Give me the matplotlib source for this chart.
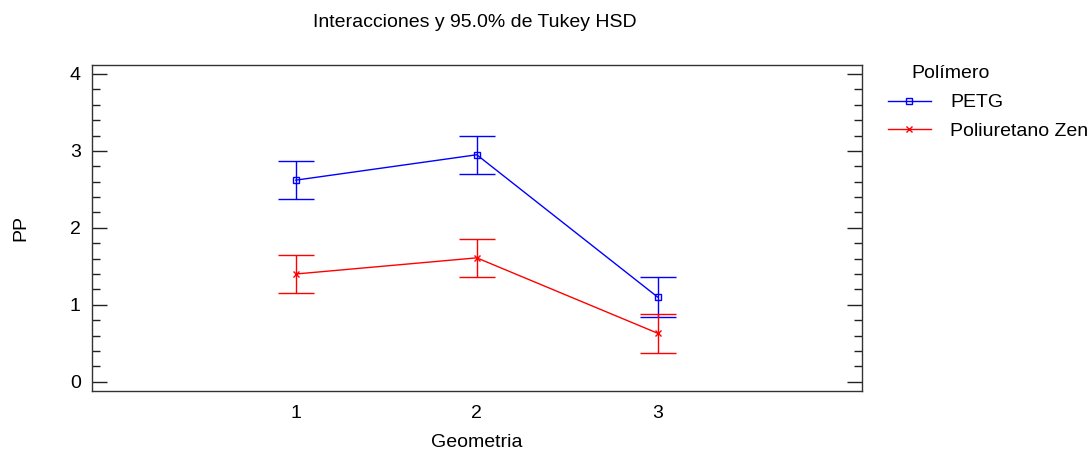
import numpy as np
import matplotlib
matplotlib.use("Agg")
import matplotlib.pyplot as plt
from matplotlib.ticker import MultipleLocator
from matplotlib.lines import Line2D

plt.rcParams['font.family'] = ['Liberation Sans', 'DejaVu Sans']

# ====== datos ======
geometria = [1, 2, 3]
petg_mean = [2.62, 2.95, 1.10]
petg_half = [0.245, 0.25, 0.255]
pu_mean = [1.40, 1.61, 0.63]
pu_half = [0.245, 0.245, 0.255]
series_names = ["PETG", "Poliuretano Zen"]

FS = 14

fig = plt.figure(figsize=(10.92, 4.51), dpi=100)
ax = fig.add_axes([0.0842, 0.1337, 0.7048, 0.7222])

ax.errorbar(geometria, petg_mean, yerr=petg_half, color="#0000ff", lw=1,
            marker="s", ms=4, mfc="none", mew=1, capsize=13, elinewidth=1,
            capthick=1)
ax.errorbar(geometria, pu_mean, yerr=pu_half, color="#ff0000", lw=1,
            marker="x", ms=4, mew=1, capsize=13, elinewidth=1,
            capthick=1)

ax.set_xlim(-0.127, 4.127)
ax.set_ylim(-0.117, 4.117)
ax.set_xticks(geometria)
ax.yaxis.set_major_locator(MultipleLocator(1))
ax.yaxis.set_minor_locator(MultipleLocator(0.2))
ax.tick_params(axis="y", which="both", direction="in", left=True, right=True,
               labelsize=FS, color="#222222")
ax.tick_params(axis="y", which="major", length=11, width=1, pad=8)
ax.tick_params(axis="y", which="minor", length=6, width=1)
ax.tick_params(axis="x", length=0, labelsize=FS, pad=10)
for s in ax.spines.values():
    s.set_color("#333333")
    s.set_linewidth(1)

ax.set_xlabel("Geometria", fontsize=FS, labelpad=9)
ax.set_ylabel("PP", fontsize=FS)
ax.yaxis.set_label_coords(-0.081, 0.5)
fig.text(0.435, 0.951, "Interacciones y 95.0% de Tukey HSD", ha="center",
         va="center", fontsize=FS)

# leyenda a la derecha
fig.text(0.835, 0.838, "Polímero", ha="left", va="center", fontsize=FS)
handles = [
    Line2D([], [], color="#0000ff", lw=1, marker="s", ms=4, mfc="none", mew=1),
    Line2D([], [], color="#ff0000", lw=1, marker="x", ms=4, mew=1),
]
leg = fig.legend(handles, series_names, loc="upper left",
                 bbox_to_anchor=(0.813, 0.792), frameon=False, fontsize=FS,
                 handlelength=2.2, handletextpad=1.0, labelspacing=0.55,
                 borderaxespad=0, borderpad=0)

plt.savefig("out.png", dpi=100)
